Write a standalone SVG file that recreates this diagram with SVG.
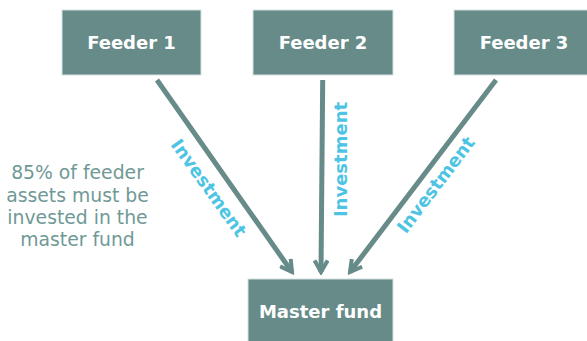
<svg xmlns="http://www.w3.org/2000/svg" width="587" height="341" viewBox="0 0 587 341">
  <defs>
    <style>
      .box { fill: #668B88; stroke: #d6e2e1; stroke-width: 1; }
      .boxlabel { font-family: "DejaVu Sans", Verdana, sans-serif; font-weight: bold; font-size: 18px; fill: #ffffff; text-anchor: middle; }
      .conn { stroke: #668B88; stroke-width: 5; fill: none; marker-end: url(#arrow); }
      .invest { font-family: "DejaVu Sans", Verdana, sans-serif; font-weight: bold; font-size: 18px; fill: #4DC4E4; text-anchor: middle; }
      .note { font-family: "DejaVu Sans", Verdana, sans-serif; font-size: 18.8px; fill: #6F9996; text-anchor: middle; }
    </style>
    <marker id="arrow" markerUnits="userSpaceOnUse" viewBox="0 0 16 16" markerWidth="16" markerHeight="16" refX="13" refY="8" orient="auto">
      <path d="M1.5,1.5 L13,8 L1.5,14.5" fill="none" stroke="#668B88" stroke-width="4"/>
    </marker>
  </defs>

  <g id="feeder1">
    <rect class="box" x="62" y="10" width="139" height="65"/>
    <text class="boxlabel" x="131.5" y="49">Feeder 1</text>
  </g>
  <g id="feeder2">
    <rect class="box" x="253" y="10" width="140" height="65"/>
    <text class="boxlabel" x="323" y="49">Feeder 2</text>
  </g>
  <g id="feeder3">
    <rect class="box" x="454" y="10" width="140" height="65"/>
    <text class="boxlabel" x="524" y="49">Feeder 3</text>
  </g>
  <g id="master">
    <rect class="box" x="248" y="279" width="145" height="70"/>
    <text class="boxlabel" x="320.5" y="318">Master fund</text>
  </g>

  <g id="connectors">
    <line class="conn" x1="157" y1="80" x2="292" y2="272"/>
    <line class="conn" x1="322.7" y1="80" x2="321" y2="272"/>
    <line class="conn" x1="496" y1="80" x2="350" y2="272"/>
    <text class="invest" transform="translate(208.5,188) rotate(54.3)" x="0" y="6">Investment</text>
    <text class="invest" transform="translate(340.5,159.5) rotate(-90)" x="0" y="6">Investment</text>
    <text class="invest" transform="translate(436,185) rotate(-52.8)" x="0" y="6">Investment</text>
  </g>

  <g id="note">
    <text class="note" x="77.5" y="179">85% of feeder</text>
    <text class="note" x="77.5" y="201.5">assets must be</text>
    <text class="note" x="77.5" y="223.5">invested in the</text>
    <text class="note" x="77.5" y="245.5">master fund</text>
  </g>
</svg>
